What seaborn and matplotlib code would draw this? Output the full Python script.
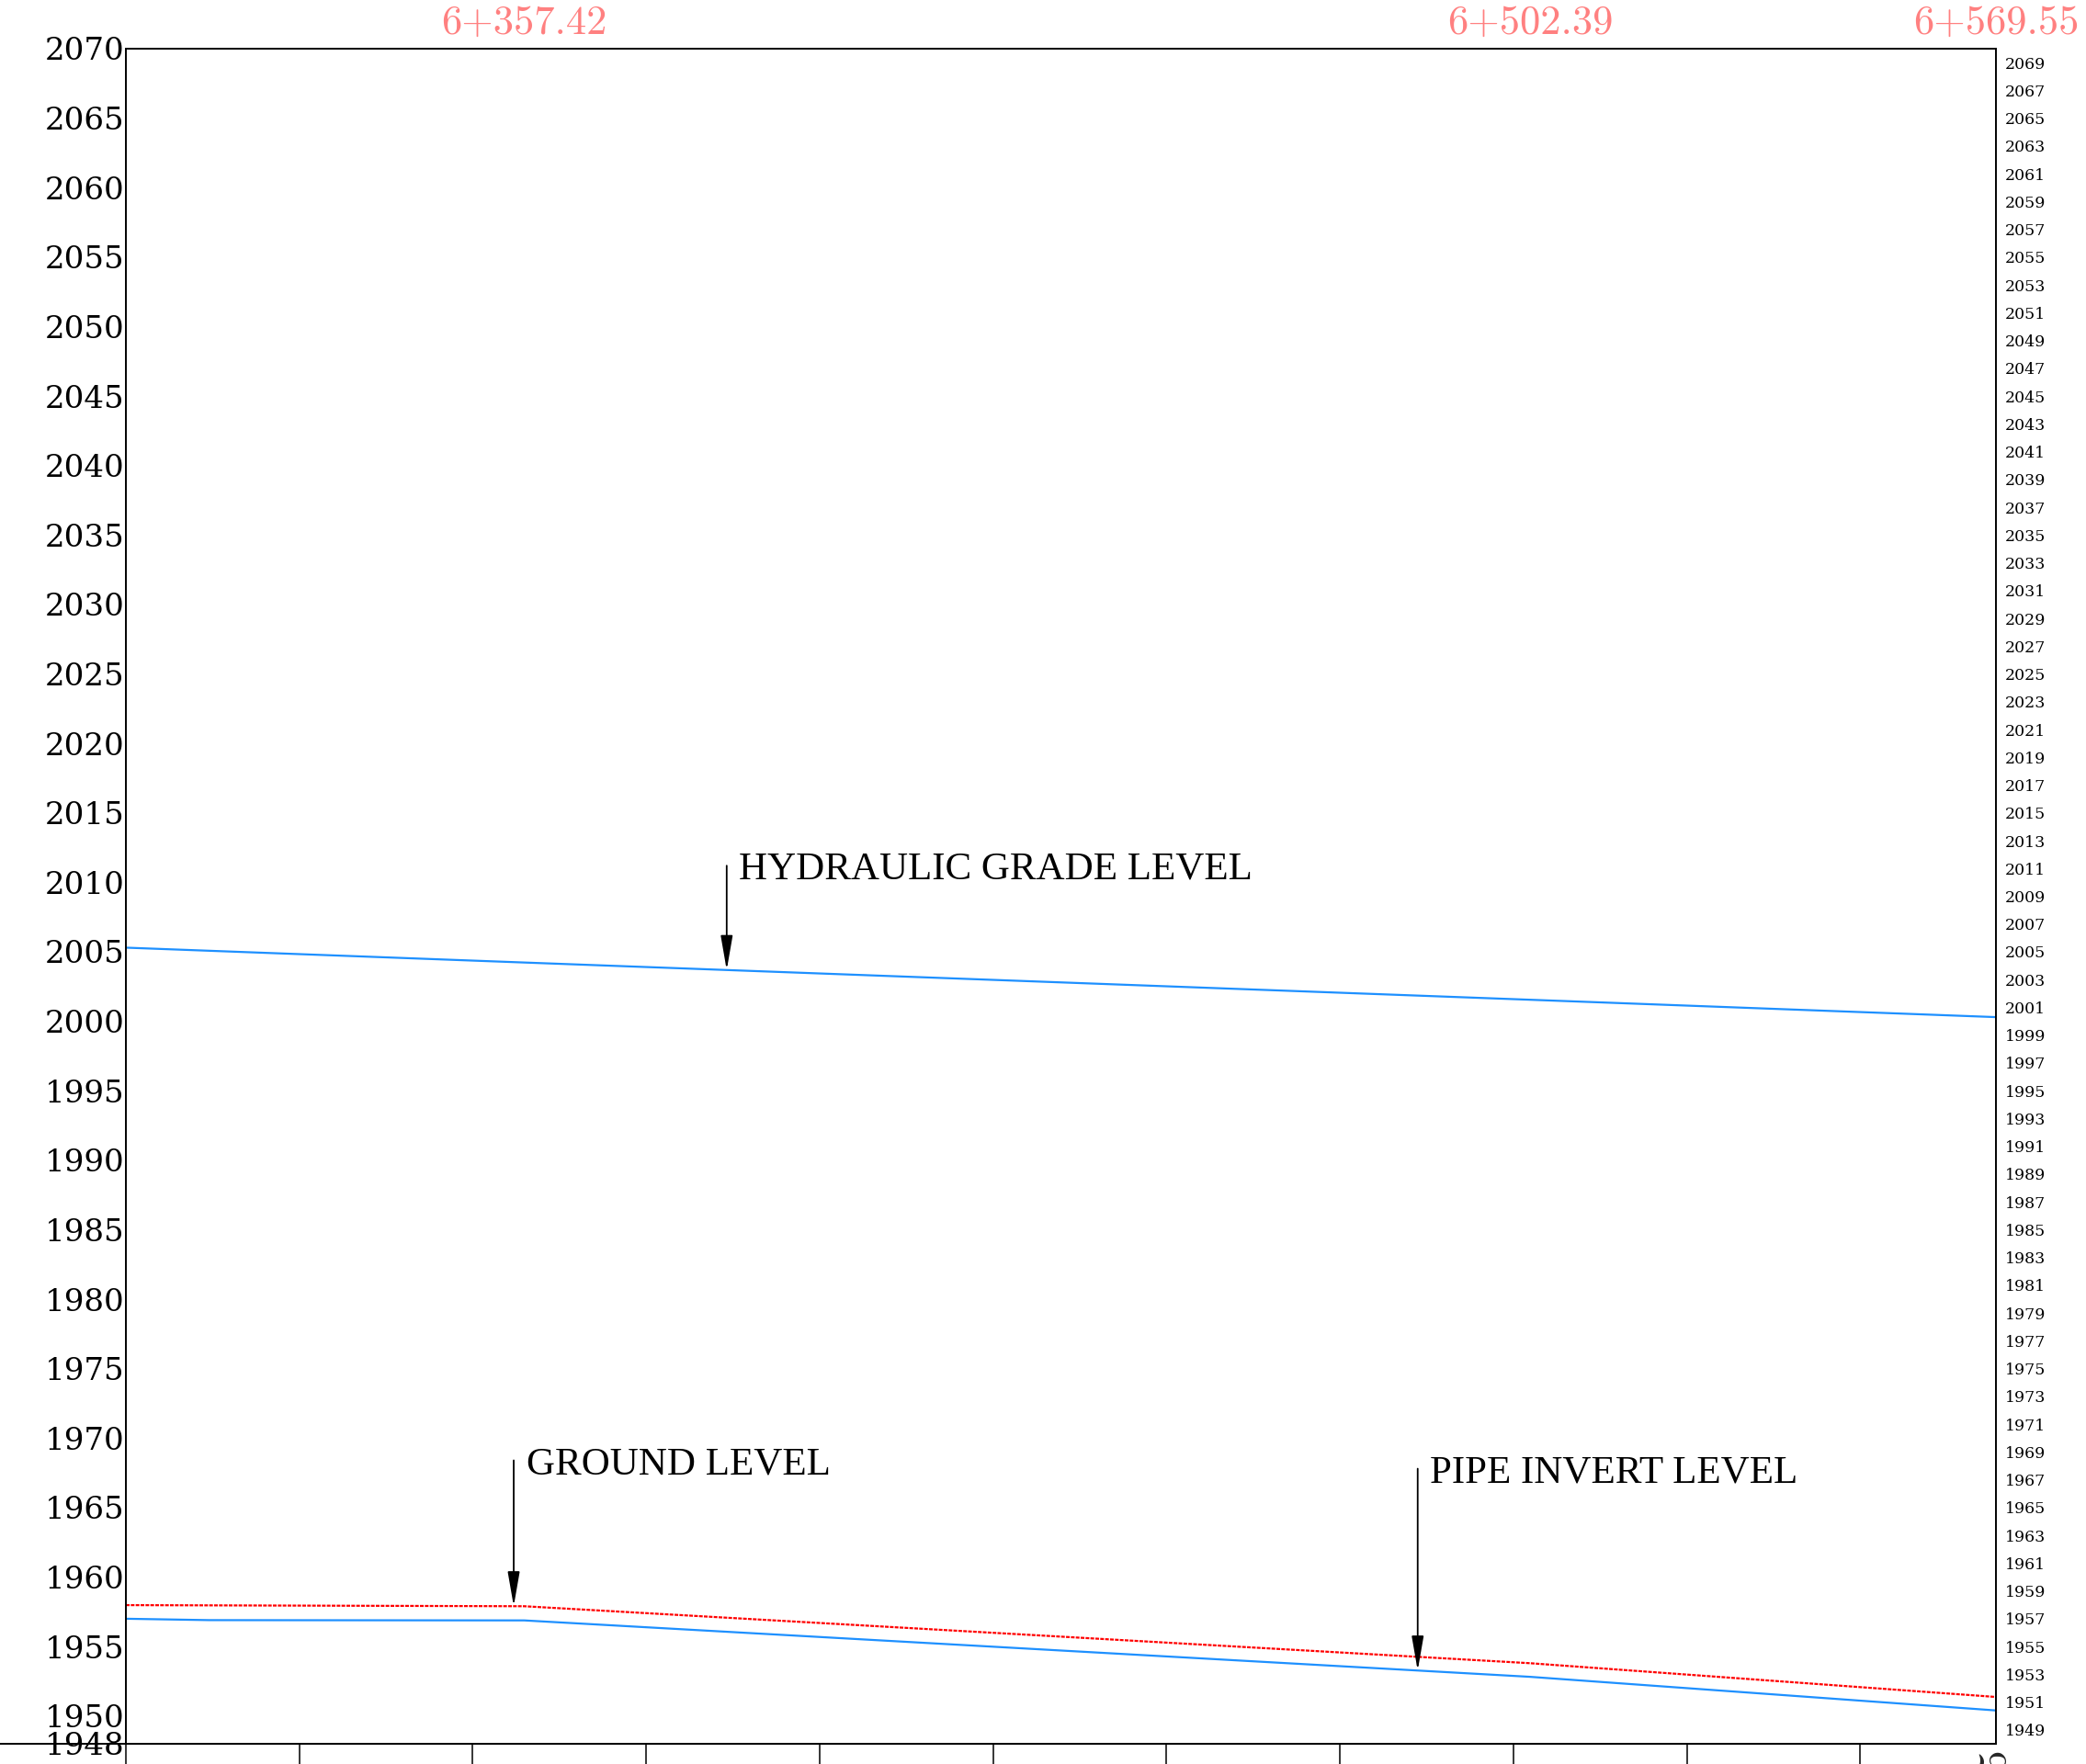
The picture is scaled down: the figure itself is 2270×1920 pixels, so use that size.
import numpy as np
import pandas as pd
import matplotlib
matplotlib.use("Agg")
import matplotlib.pyplot as plt
import seaborn as sns

# ---------------- data ----------------
hgl_station = [6300.0, 6357.42, 6502.39, 6569.55]
hgl_level = [2005.30, 2004.23, 2001.55, 2000.30]

ground_station = [6300.0, 6357.42, 6502.39, 6569.55]
ground_level = [1957.98, 1957.90, 1953.80, 1951.37]

invert_station = [6300.0, 6312.0, 6357.42, 6502.39, 6569.55]
invert_level = [1957.00, 1956.90, 1956.88, 1952.82, 1950.40]

top_stations = [6357.42, 6502.39, 6569.55]

left_ticks = [1948] + list(range(1950, 2071, 5))
right_ticks = list(range(1949, 2070, 2))
bottom_ticks = list(range(6300, 6551, 25))

annot_labels = ["HYDRAULIC GRADE LEVEL", "GROUND LEVEL", "PIPE INVERT LEVEL"]
annot_station = [6386.6, 6355.9, 6486.2]
annot_top = [2011.2, 1968.4, 1967.8]
annot_target = ["hgl", "ground", "invert"]


def fmt_station(s):
    km = int(s // 1000)
    return f"{km}+{s - km * 1000:06.2f}"


# ---------------- figure ----------------
sns.set_theme(style="white")
plt.rcParams["font.family"] = ["DejaVu Serif"]

fig = plt.figure(figsize=(22.7, 19.2), dpi=100)
fig.patch.set_facecolor("white")
ax = fig.add_axes([137 / 2270, 1 - 1898 / 1920, (2172 - 137) / 2270, (1898 - 53) / 1920])
ax.set_facecolor("white")

blue = "#1E90FF"
sns.lineplot(x=hgl_station, y=hgl_level, ax=ax, color=blue, lw=1.6)
sns.lineplot(x=invert_station, y=invert_level, ax=ax, color=blue, lw=1.6)
sns.lineplot(x=ground_station, y=ground_level, ax=ax, color="#FF0000", lw=1.6,
             dashes=False)
ax.lines[-1].set_linestyle((0, (1.8, 0.6)))

ax.set_xlim(6300, 6569.55)
ax.set_ylim(1948, 2070)
ax.set_xlabel("")
ax.set_ylabel("")
ax.grid(False)

for sp in ax.spines.values():
    sp.set_color("black")
    sp.set_linewidth(1.4)
    sp.set_visible(True)

# bottom base line extends to the left edge of the figure
ax.axhline(1948, xmin=-137 / 2035, xmax=1, color="black", lw=1.4, clip_on=False, zorder=5)

# left ticks
ax.set_yticks(left_ticks, labels=[str(v) for v in left_ticks],
              fontfamily="DejaVu Serif", fontsize=24.5)
ax.tick_params(axis="y", which="major", length=0, pad=1, colors="black")

# bottom ticks (only the end-station label peeks in at the bottom edge)
ax.set_xticks(bottom_ticks, labels=["" for v in bottom_ticks])
ax.set_xticks([top_stations[-1]], labels=[fmt_station(top_stations[-1])], minor=True,
              fontfamily="cmr10", fontsize=31, rotation=90)
ax.tick_params(axis="x", which="major", direction="out", length=22, width=1.1,
               color="black", pad=12, bottom=True)
ax.tick_params(axis="x", which="minor", length=0, pad=3, bottom=True)

# right axis
ax_r = ax.twinx()
ax_r.set_ylim(ax.get_ylim())
ax_r.set_yticks(right_ticks, labels=[str(v) for v in right_ticks],
                fontfamily="DejaVu Serif", fontsize=12.5)
ax_r.tick_params(axis="y", length=0, pad=7, colors="black")
ax_r.grid(False)
for sp in ax_r.spines.values():
    sp.set_visible(False)

# top station labels
ax_t = ax.twiny()
ax_t.set_xlim(ax.get_xlim())
ax_t.set_xticks(top_stations, labels=[fmt_station(v) for v in top_stations],
                fontfamily="cmr10", fontsize=32, color="#FF8080")
ax_t.tick_params(axis="x", length=0, pad=5)
ax_t.grid(False)
for sp in ax_t.spines.values():
    sp.set_visible(False)

# annotations
series = {
    "hgl": (hgl_station, hgl_level),
    "ground": (ground_station, ground_level),
    "invert": (invert_station, invert_level),
}
for lab, st, top, tgt in zip(annot_labels, annot_station, annot_top, annot_target):
    xs, ys = series[tgt]
    tip = float(np.interp(st, xs, ys))
    ax.annotate("", xy=(st, tip), xytext=(st, top),
                arrowprops=dict(arrowstyle="-|>,head_length=2.3,head_width=0.4",
                                color="black", lw=1.3, shrinkA=0, shrinkB=0,
                                mutation_scale=10))
    ax.text(st + 1.8, top, lab, ha="left", va="center_baseline",
            fontfamily="Liberation Serif", fontsize=31, color="black")

fig.savefig("out.png", dpi=100, facecolor="white")
